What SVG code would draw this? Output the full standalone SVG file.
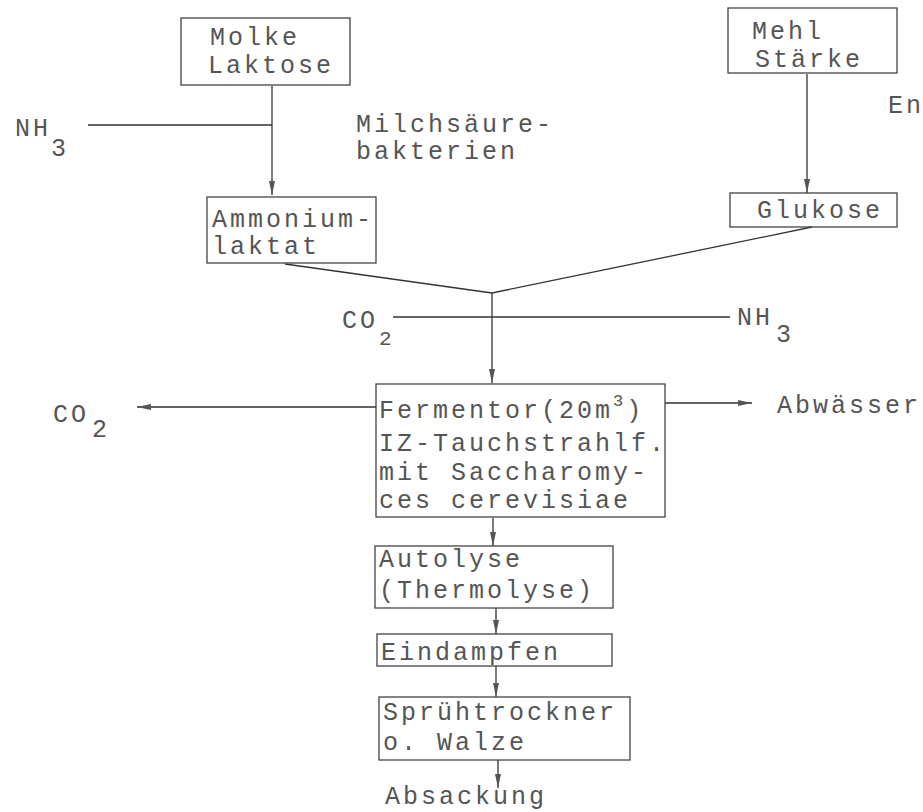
<svg xmlns="http://www.w3.org/2000/svg" width="923" height="812" viewBox="0 0 923 812">
<style>
.box{fill:none;stroke:#444;stroke-width:1.3}
.t{font-family:"Liberation Mono","DejaVu Sans Mono",monospace;font-size:25px;letter-spacing:3px;fill:#555}
.s{font-family:"Liberation Mono","DejaVu Sans Mono",monospace;font-size:21px;fill:#555}
.c{stroke:#333;stroke-width:1.3;fill:none}
</style>
<defs>
<marker id="ar" viewBox="0 0 14 6" refX="14" refY="3" markerWidth="14" markerHeight="6" markerUnits="userSpaceOnUse" orient="auto">
<path d="M0,0 L14,3 L0,6 Z" fill="#555"/>
</marker>
</defs>
<rect width="923" height="812" fill="#fff"/>
<g id="connectors">
<line class="c" x1="272" y1="86" x2="272" y2="195" marker-end="url(#ar)"/>
<line class="c" x1="88" y1="125" x2="272" y2="125"/>
<line class="c" x1="807" y1="74" x2="807" y2="193" marker-end="url(#ar)"/>
<line class="c" x1="285" y1="264" x2="492" y2="293"/>
<line class="c" x1="812" y1="227" x2="492" y2="293"/>
<line class="c" x1="492" y1="293" x2="492" y2="383" marker-end="url(#ar)"/>
<line class="c" x1="393" y1="317" x2="730" y2="317"/>
<line class="c" x1="376" y1="407" x2="137" y2="407" marker-end="url(#ar)"/>
<line class="c" x1="665" y1="403" x2="752" y2="403" marker-end="url(#ar)"/>
<line class="c" x1="493" y1="518" x2="493" y2="546" marker-end="url(#ar)"/>
<line class="c" x1="496" y1="608" x2="496" y2="634" marker-end="url(#ar)"/>
<line class="c" x1="496" y1="666" x2="496" y2="697" marker-end="url(#ar)"/>
<line class="c" x1="498" y1="760" x2="498" y2="788" marker-end="url(#ar)"/>
</g>
<g id="molke">
<rect class="box" x="181" y="18" width="169" height="67"/>
<text class="t" x="210" y="45">Molke</text>
<text class="t" x="208" y="73">Laktose</text>
</g>
<g id="mehl">
<rect class="box" x="728" y="8" width="169" height="65"/>
<text class="t" x="752" y="39">Mehl</text>
<text class="t" x="755" y="67">Stärke</text>
</g>
<g id="nh3-left">
<text class="t" x="15" y="136" letter-spacing="9">NH</text>
<text class="t" x="51" y="156">3</text>
</g>
<g id="milchsaeure">
<text class="t" x="356" y="132">Milchsäure-</text>
<text class="t" x="356" y="159">bakterien</text>
</g>
<g id="enzym">
<text class="t" x="888" y="113" letter-spacing="1">En</text>
</g>
<g id="ammonium">
<rect class="box" x="207" y="197" width="169" height="66"/>
<text class="t" x="212" y="227">Ammonium-</text>
<text class="t" x="212" y="254">laktat</text>
</g>
<g id="glukose">
<rect class="box" x="730" y="193" width="167" height="34"/>
<text class="t" x="757" y="218">Glukose</text>
</g>
<g id="co2-top">
<text class="t" x="342" y="328" letter-spacing="2">CO</text>
<text class="s" x="379" y="345">2</text>
</g>
<g id="nh3-right">
<text class="t" x="737" y="325" letter-spacing="2">NH</text>
<text class="t" x="776" y="342">3</text>
</g>
<g id="fermentor">
<rect class="box" x="376" y="384" width="289" height="133"/>
<text class="t" x="379" y="418">Fermentor(20m<tspan font-size="17" dy="-12">3</tspan><tspan dy="12">)</tspan></text>
<text class="t" x="379" y="451">IZ-Tauchstrahlf.</text>
<text class="t" x="379" y="480">mit Saccharomy-</text>
<text class="t" x="379" y="508">ces cerevisiae</text>
</g>
<g id="co2-left">
<text class="t" x="53" y="422" letter-spacing="2">CO</text>
<text class="t" x="92" y="437">2</text>
</g>
<g id="abwaesser">
<text class="t" x="777" y="413">Abwässer</text>
</g>
<g id="autolyse">
<rect class="box" x="375" y="546" width="238" height="62"/>
<text class="t" x="379" y="567">Autolyse</text>
<text class="t" x="379" y="598">(Thermolyse)</text>
</g>
<g id="eindampfen">
<rect class="box" x="377" y="634" width="235" height="32"/>
<text class="t" x="381" y="660">Eindampfen</text>
</g>
<g id="spruehtrockner">
<rect class="box" x="379" y="697" width="251" height="63"/>
<text class="t" x="383" y="720">Sprühtrockner</text>
<text class="t" x="383" y="750">o. Walze</text>
</g>
<g id="absackung">
<text class="t" x="385" y="804">Absackung</text>
</g>
</svg>
